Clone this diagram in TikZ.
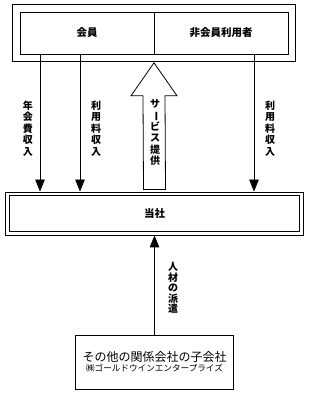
\documentclass[tikz,border=0pt]{standalone}
\usepackage{fontspec}
\setmainfont{Noto Sans CJK JP}
\usetikzlibrary{arrows.meta,positioning,fit,calc}

\begin{document}
\begin{tikzpicture}[x=1pt,y=1pt,
  box/.style={draw,line width=0.8pt,minimum height=42pt,align=center,font=\fontsize{10.5}{12}\selectfont\bfseries},
  vlabel/.style={align=center,inner sep=0pt,font=\fontsize{10}{11.4}\selectfont\bfseries},
  link/.style={-{Triangle[length=12pt,width=9.5pt]},line width=0.8pt},
  svarrow/.style={draw,line width=0.8pt,line join=miter,fill=white}]
\useasboundingbox (0,0) rectangle (308,396);

\node[box,minimum width=134pt] (kaiin) at (87,363) {会員};
\node[box,minimum width=134pt] (hikaiin) at (221,363) {非会員利用者};
\node[draw,line width=0.8pt,fit=(kaiin)(hikaiin),inner sep=7pt] (user) {};

\node[box,double,double distance=2.5pt,minimum width=294pt,minimum height=39.5pt] (tosha) at (154.5,182.25) {当社};

\node[box,minimum width=158pt,minimum height=54pt,inner sep=0pt,font=\mdseries] (kogaisha) at (154.5,34)
  {{\fontsize{12}{14}\selectfont その他の関係会社の子会社}\\[-2pt]{\fontsize{8.6}{10}\selectfont ㈱ゴールドウインエンタープライズ}};

% revenue flows
\draw[link,shorten >=2pt] (kaiin.south -| 40,0) -- (tosha.north -| 40,0);
\draw[link,shorten >=2pt] (kaiin.south -| 80,0) -- (tosha.north -| 80,0);
\draw[link,shorten >=2pt] (hikaiin.south -| 254,0) -- (tosha.north -| 254,0);

\node[vlabel] (nenkai) at (28,267.5) {年\\会\\費\\収\\入};
\node[vlabel] (riyo1) at (96,267.5) {利\\用\\料\\収\\入};
\node[vlabel] (riyo2) at (270,267.5) {利\\用\\料\\収\\入};

% service
\coordinate (svtip) at ([yshift=-1pt]user.south);
\coordinate (svfoot) at ([yshift=4pt]tosha.north);
\draw[svarrow] ($(svfoot)+(-11,0)$) -- ($(svtip)+(-11,-33)$) -- ($(svtip)+(-23,-33)$) -- (svtip)
  -- ($(svtip)+(23,-33)$) -- ($(svtip)+(11,-33)$) -- ($(svfoot)+(11,0)$) -- cycle;
\node[vlabel] (service) at (155,263.5) {サ\\\rotatebox[origin=c]{-90}{ー}\\ビ\\ス\\提\\供};

% staff
\draw[link,shorten >=1.5pt] (kogaisha.north) -- (tosha.south);
\node[vlabel,font=\fontsize{10}{10.6}\selectfont\bfseries] (jinzai) at (173,108) {人\\材\\の\\派\\遣};
\end{tikzpicture}
\end{document}
